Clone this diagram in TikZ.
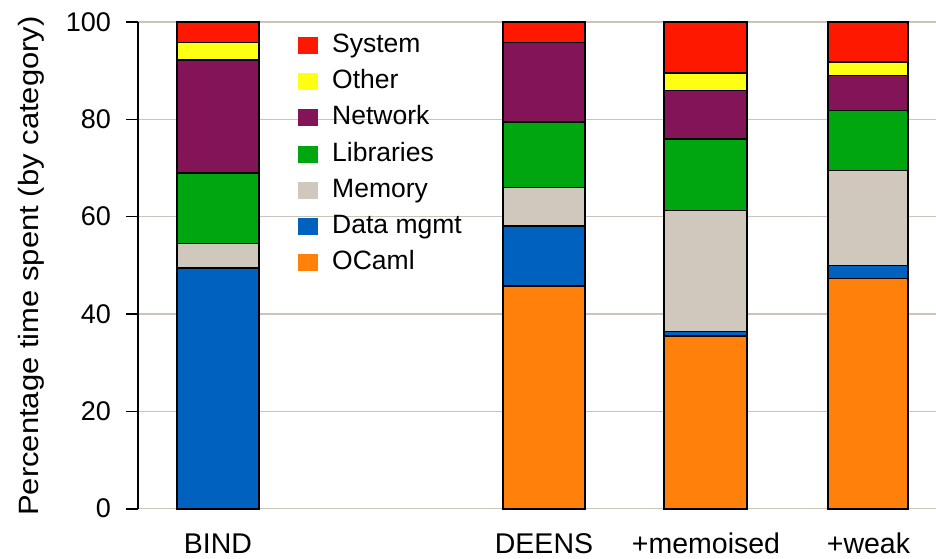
\documentclass[tikz,border=0pt]{standalone}
\usepackage{fontspec}
\setmainfont{Liberation Sans}
\definecolor{cred}{RGB}{255,24,0}
\definecolor{cyellow}{RGB}{255,255,20}
\definecolor{cpurple}{RGB}{132,20,88}
\definecolor{cgreen}{RGB}{0,166,16}
\definecolor{cmem}{RGB}{208,200,189}
\definecolor{cblue}{RGB}{0,98,190}
\definecolor{corange}{RGB}{255,128,10}
\definecolor{cgrid}{RGB}{204,196,184}
\tikzset{
  gridline/.style={draw=cgrid, line width=1.5pt},
  seg/.style={draw=black, line width=1.6pt},
  axisline/.style={draw=black, line width=1.6pt},
  ticklab/.style={anchor=east, inner sep=0pt, font=\fontsize{27pt}{30pt}\selectfont},
  catlab/.style={anchor=base, inner sep=0pt, font=\fontsize{28.5pt}{32pt}\selectfont},
  leglab/.style={anchor=base west, inner sep=0pt, font=\fontsize{26.5pt}{30pt}\selectfont},
  legbox/.style={draw=none, minimum width=20pt, minimum height=17pt, inner sep=0pt},
  ylab/.style={rotate=90, inner sep=0pt, font=\fontsize{31pt}{34pt}\selectfont}
}
\begin{document}
\begin{tikzpicture}[x=1pt, y=1pt]
\useasboundingbox (0,0) rectangle (936,558);
% data scope: y in percent
\begin{scope}[shift={(0,49.3)}, y=4.867pt]
  % gridlines
  \foreach \v in {0,20,...,100} {
    \draw[gridline] (138,\v) -- (936,\v);
  }
  % bars
  \foreach \a/\b/\c in {0/49.5/cblue, 49.5/54.5/cmem, 54.5/69.0/cgreen, 69.0/92.2/cpurple, 92.2/95.8/cyellow, 95.8/100/cred}
    \filldraw[seg, fill=\c] (177,\a) rectangle (259,\b);
  \foreach \a/\b/\c in {0/45.8/corange, 45.8/58.1/cblue, 58.1/66.0/cmem, 66.0/79.5/cgreen, 79.5/95.8/cpurple, 95.8/100/cred}
    \filldraw[seg, fill=\c] (503,\a) rectangle (585,\b);
  \foreach \a/\b/\c in {0/35.5/corange, 35.5/36.4/cblue, 36.4/61.3/cmem, 61.3/75.9/cgreen, 75.9/85.9/cpurple, 85.9/89.5/cyellow, 89.5/100/cred}
    \filldraw[seg, fill=\c] (664,\a) rectangle (747,\b);
  \foreach \a/\b/\c in {0/47.3/corange, 47.3/50.0/cblue, 50.0/69.5/cmem, 69.5/81.8/cgreen, 81.8/89.0/cpurple, 89.0/91.8/cyellow, 91.8/100/cred}
    \filldraw[seg, fill=\c] (828,\a) rectangle (908,\b);
  % axis
  \draw[axisline] (138,0) -- (138,100);
  \foreach \v in {0,20,...,100} {
    \draw[axisline] (126,\v) -- (138,\v);
    \node[ticklab] (tk\v) at (111,\v) {\v};
  }
\end{scope}
% legend
\foreach \i/\c/\t in {0/cred/System, 1/cyellow/Other, 2/cpurple/Network, 3/cgreen/Libraries, 4/cmem/Memory, 5/cblue/Data mgmt, 6/corange/OCaml} {
  \node[legbox, fill=\c] (lb\i) at (308, {558-(45.3+36.25*\i)}) {};
  \node[leglab] (lt\i) at (332, {558-(52.3+36.25*\i)}) {\t};
}
% category labels
\node[catlab] (cBIND) at (218,5) {BIND};
\node[catlab] (cDEENS) at (544,5) {DEENS};
\node[catlab] (cmemo) at (706,5) {+memoised};
\node[catlab] (cweak) at (868.5,5) {+weak};
% y label
\node[ylab] (ylabel) at (31,292) {\scalebox{1}[0.9]{Percentage time spent (by category)}};
\end{tikzpicture}
\end{document}
